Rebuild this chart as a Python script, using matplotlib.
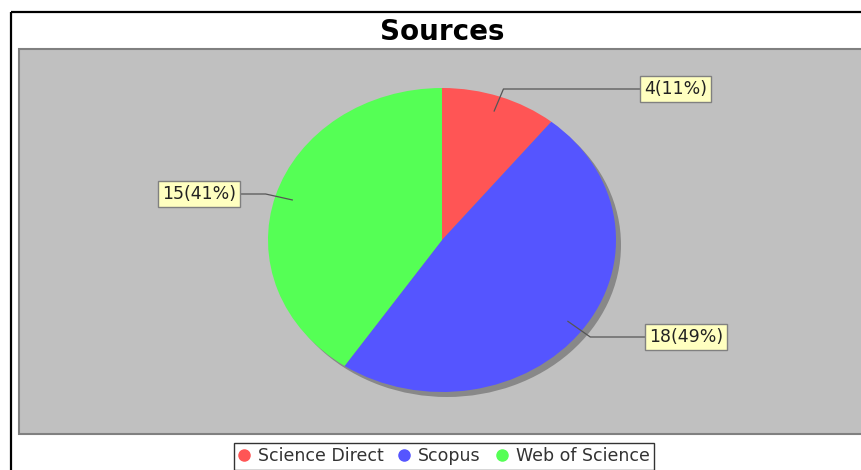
import numpy as np
import matplotlib.pyplot as plt
from matplotlib.patches import Rectangle
from matplotlib.lines import Line2D

# data
sources = ["Science Direct", "Scopus", "Web of Science"]
counts = [4, 18, 15]
pct_labels = ["11%", "49%", "41%"]
colors = ["#FF5555", "#5555FF", "#55FF55"]
# label box anchor (inner edge x, centre y) in pixels
label_pos = [(641, 89), (646, 337), (239, 194)]

W, H = 862, 470
fig = plt.figure(figsize=(W / 100, H / 100), dpi=100)

# background axes in pixel coordinates
ax = fig.add_axes([0, 0, 1, 1])
ax.set_xlim(0, W)
ax.set_ylim(H, 0)
ax.axis("off")

ax.add_patch(Rectangle((11, 12), 900, 500, fill=False, edgecolor="black", lw=1.6))
ax.add_patch(Rectangle((19, 49), 900, 385, facecolor="#C0C0C0", edgecolor="#808080", lw=1.5))
ax.text(442, 32, "Sources", ha="center", va="center", fontsize=20, fontweight="bold")

# pie, stretched into an ellipse
cx, cy, rx, ry = 442, 240, 174, 152
pax = fig.add_axes([(cx - rx) / W, (H - cy - ry) / H, 2 * rx / W, 2 * ry / H])
shadow, _ = pax.pie([1], colors=["#888888"], radius=1, center=(5 / rx, -5 / ry))
for w in shadow:
    w.set_clip_on(False)
wedges, _ = pax.pie(counts, colors=colors, startangle=90, counterclock=False,
                    wedgeprops=dict(linewidth=0))
for w in wedges:
    w.set_clip_on(False)
pax.set_aspect("auto")
pax.set_xlim(-1, 1)
pax.set_ylim(-1, 1)
pax.axis("off")

# overlay axes for labels, above the pie
lax = fig.add_axes([0, 0, 1, 1])
lax.set_xlim(0, W)
lax.set_ylim(H, 0)
lax.axis("off")

to_px = lambda p: lax.transData.inverted().transform(pax.transData.transform(p))
for w, n, pc, (lx, ly) in zip(wedges, counts, pct_labels, label_pos):
    mid = np.deg2rad((w.theta1 + w.theta2) / 2)
    anchor = to_px((0.9 * np.cos(mid), 0.9 * np.sin(mid)))
    elbow = to_px((1.06 * np.cos(mid), 1.06 * np.sin(mid)))
    right = lx > cx
    lax.plot([anchor[0], elbow[0], lx], [anchor[1], ly, ly],
             color="#555555", lw=0.9, zorder=3)
    lax.text(lx + (3 if right else -3), ly, f"{n}({pc})",
             ha="left" if right else "right", va="center", fontsize=12.5,
             color="#222222", zorder=4,
             bbox=dict(boxstyle="square,pad=0.25", facecolor="#FFFFC0",
                       edgecolor="#808080", lw=1))

# legend
handles = [Line2D([], [], marker="o", linestyle="", markersize=8,
                  markerfacecolor=c, markeredgecolor=c) for c in colors]
leg = fig.legend(handles, sources, loc="upper center", ncol=3,
                 bbox_to_anchor=(444 / W, 1 - 443 / H), fontsize=12.5,
                 frameon=True, fancybox=False, handlelength=0.6,
                 handletextpad=0.5, columnspacing=0.9, borderpad=0.25,
                 borderaxespad=0, labelcolor="#333333")
leg.get_frame().set_edgecolor("black")
leg.get_frame().set_linewidth(1)

fig.savefig("out.png", dpi=100)
